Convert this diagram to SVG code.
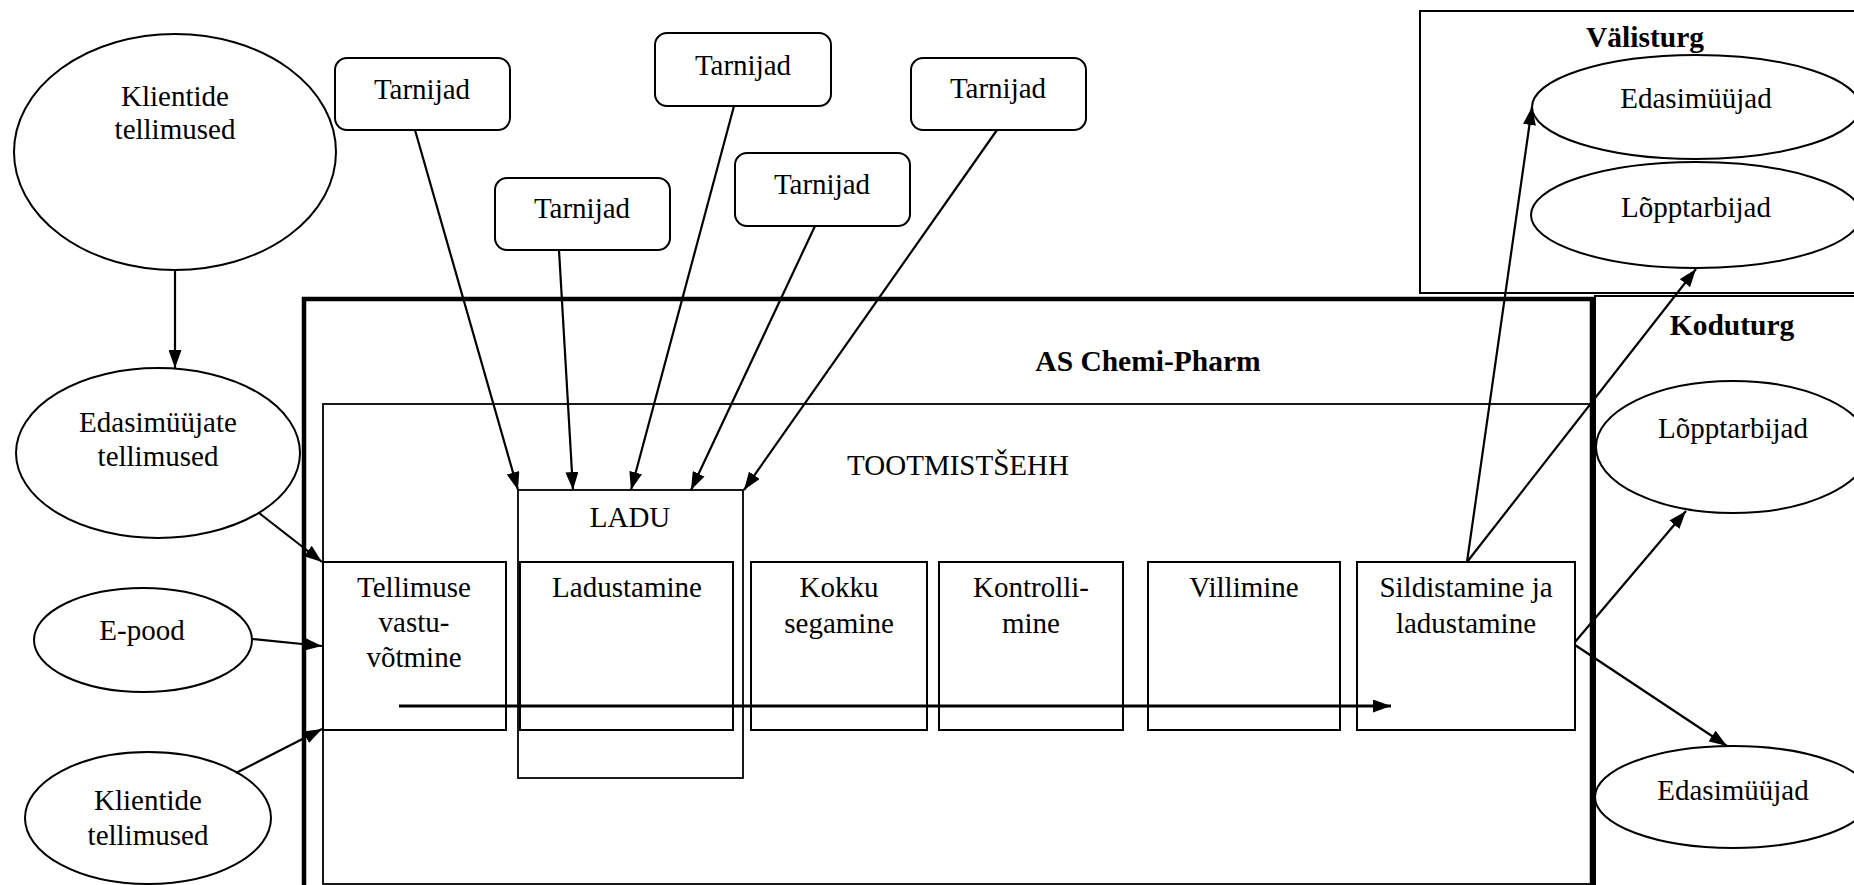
<svg xmlns="http://www.w3.org/2000/svg" width="1854" height="885" viewBox="0 0 1854 885">
<style>
text{font-family:"Liberation Serif","Times New Roman",serif;font-size:29px;fill:#000;text-anchor:middle}
.b{font-weight:bold;font-size:29.5px}
.n{fill:#fff;stroke:#000;stroke-width:2}
.thin{fill:none;stroke:#000;stroke-width:1.8}
.thick{fill:none;stroke:#000;stroke-width:4.5}
.c{fill:none;stroke:#000;stroke-width:2.2;marker-end:url(#ah)}
</style>
<defs>
<marker id="ah" viewBox="0 0 18 13" refX="18" refY="6.5" markerWidth="18" markerHeight="13" markerUnits="userSpaceOnUse" orient="auto"><path d="M0,0 L18,6.5 L0,13 z" fill="#000"/></marker>
</defs>
<rect width="1854" height="885" fill="#fff"/>

<g id="valisturg">
<rect class="n" x="1420" y="11" width="450" height="282"/>
<text class="b" x="1645" y="47">Välisturg</text>
</g>
<g id="koduturg">
<rect class="n" x="1595" y="296" width="275" height="600"/>
<text class="b" x="1732" y="335">Koduturg</text>
</g>
<g id="as-chemi-pharm">
<rect class="thick" x="304" y="299" width="1288" height="600"/>
<text class="b" x="1148" y="371">AS Chemi-Pharm</text>
</g>
<g id="tootmistsehh">
<rect class="thin" x="323" y="404" width="1269" height="480"/>
<text x="958" y="475">TOOTMISTŠEHH</text>
</g>
<g id="ladu">
<rect class="thin" x="518" y="490" width="225" height="288"/>
<text x="630" y="527">LADU</text>
</g>

<g id="tellimuse">
<rect class="n" x="323" y="562" width="183" height="168"/>
<text x="414" y="597">Tellimuse</text>
<text x="414" y="632">vastu-</text>
<text x="414" y="667">võtmine</text>
</g>
<g id="ladustamine">
<rect class="n" x="520" y="562" width="213" height="168"/>
<text x="627" y="597">Ladustamine</text>
</g>
<g id="kokku">
<rect class="n" x="751" y="562" width="176" height="168"/>
<text x="839" y="597">Kokku</text>
<text x="839" y="633">segamine</text>
</g>
<g id="kontrolli">
<rect class="n" x="939" y="562" width="184" height="168"/>
<text x="1031" y="597">Kontrolli-</text>
<text x="1031" y="633">mine</text>
</g>
<g id="villimine">
<rect class="n" x="1148" y="562" width="192" height="168"/>
<text x="1244" y="597">Villimine</text>
</g>
<g id="sildistamine">
<rect class="n" x="1357" y="562" width="218" height="168"/>
<text x="1466" y="597">Sildistamine ja</text>
<text x="1466" y="633">ladustamine</text>
</g>

<g id="klientide1">
<ellipse class="n" cx="175" cy="152" rx="161" ry="118"/>
<text x="175" y="106">Klientide</text>
<text x="175" y="139">tellimused</text>
</g>
<g id="edasimuujate">
<ellipse class="n" cx="158" cy="453" rx="142" ry="85"/>
<text x="158" y="432">Edasimüüjate</text>
<text x="158" y="466">tellimused</text>
</g>
<g id="epood">
<ellipse class="n" cx="143" cy="640" rx="109" ry="52"/>
<text x="142" y="640">E-pood</text>
</g>
<g id="klientide2">
<ellipse class="n" cx="148" cy="818" rx="123" ry="66"/>
<text x="148" y="810">Klientide</text>
<text x="148" y="845">tellimused</text>
</g>

<g id="tarnijad1">
<rect class="n" x="335" y="58" width="175" height="72" rx="12"/>
<text x="422" y="99">Tarnijad</text>
</g>
<g id="tarnijad2">
<rect class="n" x="495" y="178" width="175" height="72" rx="12"/>
<text x="582" y="218">Tarnijad</text>
</g>
<g id="tarnijad3">
<rect class="n" x="655" y="33" width="176" height="73" rx="12"/>
<text x="743" y="75">Tarnijad</text>
</g>
<g id="tarnijad4">
<rect class="n" x="735" y="153" width="175" height="73" rx="12"/>
<text x="822" y="194">Tarnijad</text>
</g>
<g id="tarnijad5">
<rect class="n" x="911" y="58" width="175" height="72" rx="12"/>
<text x="998" y="98">Tarnijad</text>
</g>

<g id="v-edasimuujad">
<ellipse class="n" cx="1696" cy="107" rx="164" ry="52"/>
<text x="1696" y="108">Edasimüüjad</text>
</g>
<g id="v-lopptarbijad">
<ellipse class="n" cx="1696" cy="215" rx="165" ry="53"/>
<text x="1696" y="217">Lõpptarbijad</text>
</g>
<g id="k-lopptarbijad">
<ellipse class="n" cx="1733" cy="447" rx="137" ry="66"/>
<text x="1733" y="438">Lõpptarbijad</text>
</g>
<g id="k-edasimuujad">
<ellipse class="n" cx="1733" cy="797" rx="138" ry="51"/>
<text x="1733" y="800">Edasimüüjad</text>
</g>

<g id="connectors">
<line class="c" x1="175" y1="270" x2="175" y2="368"/>
<line class="c" x1="259" y1="513" x2="322" y2="562"/>
<line class="c" x1="252" y1="639" x2="322" y2="646"/>
<line class="c" x1="236" y1="773" x2="322" y2="729"/>
<line class="c" x1="415" y1="130" x2="518" y2="490"/>
<line class="c" x1="559" y1="250" x2="573" y2="490"/>
<line class="c" x1="734" y1="106" x2="631" y2="490"/>
<line class="c" x1="815" y1="226" x2="691" y2="490"/>
<line class="c" x1="997" y1="130" x2="744" y2="490"/>
<line class="c" style="stroke-width:3" x1="399" y1="706" x2="1391" y2="706"/>
<line class="c" x1="1467" y1="562" x2="1532" y2="107"/>
<line class="c" x1="1467" y1="562" x2="1696" y2="269"/>
<line class="c" x1="1575" y1="642" x2="1686" y2="511"/>
<line class="c" x1="1575" y1="645" x2="1727" y2="746"/>
</g>
</svg>
